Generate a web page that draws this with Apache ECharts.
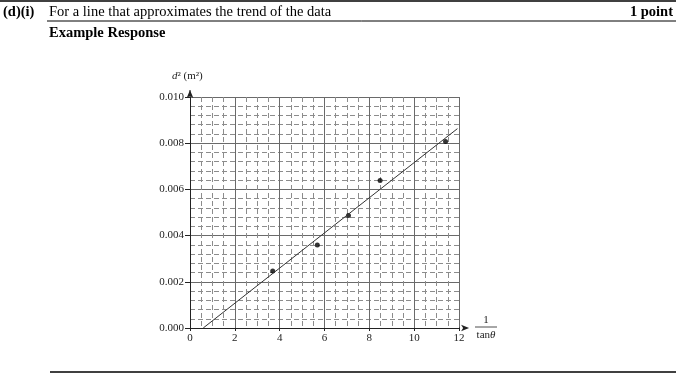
<!DOCTYPE html>
<html><head><meta charset="utf-8">
<script src="https://cdn.jsdelivr.net/npm/echarts@6/dist/echarts.min.js"></script>
<style>html,body{margin:0;padding:0;background:#fff;}#c{width:676px;height:381px;}</style>
</head><body><div id="c"></div>
<script>
// Data
const xTicks = [0, 2, 4, 6, 8, 10, 12];
const yTicks = [0.000, 0.002, 0.004, 0.006, 0.008, 0.010];
const invTan = [3.69, 5.68, 7.07, 8.48, 11.40];
const dSquared = [0.00247, 0.00359, 0.00487, 0.00639, 0.00807];
const fitX = [0.59, 11.93];
const fitY = [0.0, 0.00863];
const axisExtX = [12, 12.45];
const axisExtY = [0.010, 0.0103];

const FONT = '"Liberation Serif", "Times New Roman", serif';
const chart = echarts.init(document.getElementById('c'), null, {renderer: 'canvas'});

const pts = invTan.map((x, i) => [x, dSquared[i]]);
const fit = fitX.map((x, i) => [x, fitY[i]]);

chart.setOption({
  animation: false,
  backgroundColor: '#fff',
  grid: {left: 190, top: 97, width: 269, height: 231, containLabel: false},
  xAxis: {
    type: 'value', min: xTicks[0], max: xTicks[xTicks.length - 1], interval: 2,
    axisLine: {show: true, onZero: false, lineStyle: {color: '#222', width: 1}},
    axisTick: {show: true, length: 3, lineStyle: {color: '#222'}},
    axisLabel: {color: '#222', fontFamily: FONT, fontSize: 11, margin: 5},
    splitLine: {show: true, lineStyle: {color: '#6a6a6a', width: 1}},
    minorTick: {show: false, splitNumber: 4},
    minorSplitLine: {show: true, lineStyle: {color: '#8c8c8c', width: 1, type: [5, 3]}}
  },
  yAxis: {
    type: 'value', min: yTicks[0], max: yTicks[yTicks.length - 1], interval: 0.002,
    axisLine: {show: true, onZero: false, lineStyle: {color: '#222', width: 1}},
    axisTick: {show: true, length: 5, lineStyle: {color: '#222'}},
    axisLabel: {color: '#222', fontFamily: FONT, fontSize: 11, margin: 6,
      formatter: v => v.toFixed(3)},
    splitLine: {show: true, lineStyle: {color: '#6a6a6a', width: 1}},
    minorTick: {show: false, splitNumber: 5},
    minorSplitLine: {show: true, lineStyle: {color: '#8c8c8c', width: 1, type: [5, 3]}}
  },
  series: [
    {
      type: 'line', data: fit, symbol: 'none', silent: true,
      lineStyle: {color: '#333', width: 1}
    },
    {
      type: 'scatter', data: pts, symbol: 'circle', symbolSize: 5,
      itemStyle: {color: '#000'}
    },
    {
      type: 'line', clip: false, silent: true,
      data: [
        {value: [0, axisExtY[0]], symbol: 'none'},
        {value: [0, axisExtY[1]], symbol: 'arrow', symbolSize: [5, 8], symbolRotate: 0}
      ],
      showSymbol: true,
      lineStyle: {color: '#222', width: 1}, itemStyle: {color: '#222'}
    },
    {
      type: 'line', clip: false, silent: true,
      data: [
        {value: [axisExtX[0], 0], symbol: 'none'},
        {value: [axisExtX[1], 0], symbol: 'arrow', symbolSize: [5, 8], symbolRotate: -90}
      ],
      showSymbol: true,
      lineStyle: {color: '#222', width: 1}, itemStyle: {color: '#222'}
    }
  ],
  graphic: [
    {type: 'line', shape: {x1: 0, y1: 1, x2: 676, y2: 1}, style: {stroke: '#000', lineWidth: 1.5}},
    {type: 'line', shape: {x1: 47, y1: 21, x2: 676, y2: 21}, style: {stroke: '#000', lineWidth: 1}},
    {type: 'line', shape: {x1: 50, y1: 372, x2: 676, y2: 372}, style: {stroke: '#000', lineWidth: 1.5}},
    {type: 'text', left: 3, top: 5, style: {text: '(d)(i)', font: 'bold 14.5px ' + FONT, fill: '#000'}},
    {type: 'text', left: 49, top: 5, style: {text: 'For a line that approximates the trend of the data', font: '14.5px ' + FONT, fill: '#000'}},
    {type: 'text', right: 3, top: 5, style: {text: '1 point', font: 'bold 14.5px ' + FONT, fill: '#000'}},
    {type: 'text', left: 49, top: 26, style: {text: 'Example Response', font: 'bold 14.5px ' + FONT, fill: '#000'}},
    {type: 'text', left: 172, top: 71, style: {
      text: '{i|d}{n|² (m²)}',
      rich: {i: {font: 'italic 11px ' + FONT, fill: '#222'}, n: {font: '11px ' + FONT, fill: '#222'}}
    }},
    {type: 'text', x: 486, y: 320, style: {text: '1', font: '11px ' + FONT, fill: '#222', align: 'center', verticalAlign: 'middle'}},
    {type: 'line', shape: {x1: 475, y1: 327, x2: 497, y2: 327}, style: {stroke: '#222', lineWidth: 0.8}},
    {type: 'text', x: 486, y: 335, style: {
      text: '{n|tan}{i|θ}', align: 'center', verticalAlign: 'middle',
      rich: {i: {font: 'italic 11px ' + FONT, fill: '#222'}, n: {font: '11px ' + FONT, fill: '#222'}}
    }}
  ]
});
</script></body></html>
